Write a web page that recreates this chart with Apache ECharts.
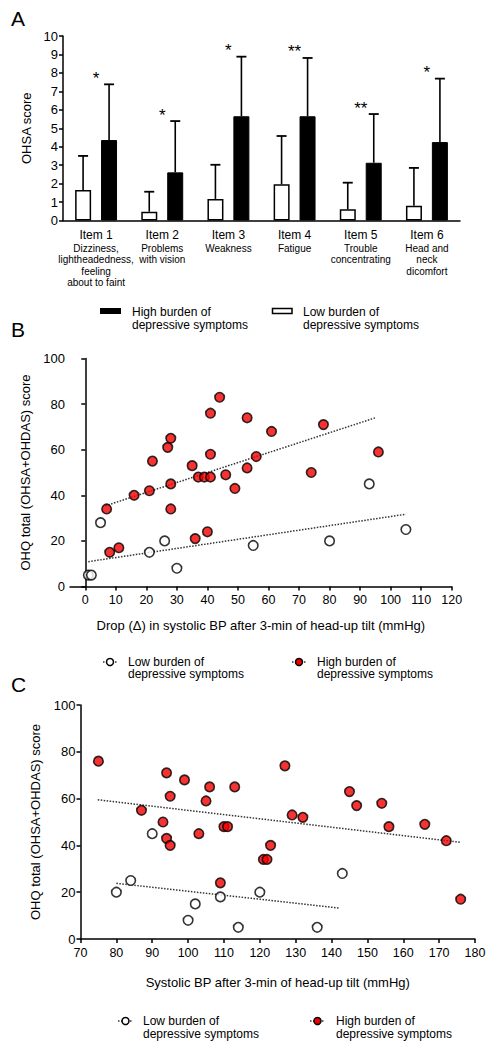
<!DOCTYPE html>
<html><head><meta charset="utf-8">
<script src="https://cdn.jsdelivr.net/npm/echarts@6/dist/echarts.min.js"></script>
<style>html,body{margin:0;padding:0;background:#fff}#c{width:494px;height:1050px}</style>
</head><body><div id="c"></div>
<script>
// ---------- Panel A data ----------
var categoriesA = ['Item 1','Item 2','Item 3','Item 4','Item 5','Item 6'];
var descriptionsA = ['Dizziness,\nlightheadedness,\nfeeling\nabout to faint','Problems\nwith vision','Weakness','Fatigue','Trouble\nconcentrating','Head and\nneck\ndicomfort'];
var lowMeanA  = [1.65, 0.48, 1.17, 1.96, 0.61, 0.80];
var lowSdA    = [1.85, 1.08, 1.85, 2.62, 1.44, 2.05];
var highMeanA = [4.36, 2.61, 5.65, 5.65, 3.13, 4.25];
var highSdA   = [3.02, 2.78, 3.23, 3.16, 2.64, 3.44];
var starsA    = ['*','*','*','**','**','*'];
var yTicksA = [0,1,2,3,4,5,6,7,8,9,10];

// ---------- Panel B data (drop in SBP vs OHQ) ----------
var lowB = [[1,5],[2,5],[5,28],[21,15],[26,20],[30,8],[55,18],[80,20],[93,45],[105,25]];
var highB = [[7,34],[8,15],[11,17],[16,40],[21,42],[22,55],[27,61],[28,65],[28,45],[28,34],[35,53],[36,21],[37,48],[39,48],[40,24],[41,76],[41,58],[41,48],[44,83],[46,49],[49,43],[53,74],[53,52],[56,57],[61,68],[74,50],[78,71],[96,59]];
var trendLowB = [[1,10.9],[105,31.7]];
var trendHighB = [[6.6,35.4],[95,74]];
var xTicksB = [0,10,20,30,40,50,60,70,80,90,100,110,120];

// ---------- Panel C data (SBP vs OHQ) ----------
var lowC = [[80,20],[84,25],[90,45],[100,8],[102,15],[109,18],[114,5],[120,20],[136,5],[143,28]];
var highC = [[75,76],[87,55],[93,50],[94,43],[94,71],[95,61],[95,40],[99,68],[103,45],[105,59],[106,65],[109,24],[110,48],[111,48],[113,65],[121,34],[122,34],[123,40],[127,74],[129,53],[132,52],[145,63],[147,57],[154,58],[156,48],[166,49],[172,42],[176,17]];
var trendLowC = [[80,23.8],[142.3,13.2]];
var trendHighC = [[74.8,59.5],[176,41.3]];

var FONT = '"Liberation Sans", Arial, Helvetica, sans-serif';
var RED = '#f20000';

function errRender(offset, withStar){
  return function(params, api){
    var i = api.value(0), m = api.value(1), sd = api.value(2);
    var p0 = api.coord([i, m]);
    var p1 = api.coord([i, m + sd]);
    var x = p0[0] + offset;
    var ch = [
      {type:'line', shape:{x1:x, y1:p0[1], x2:x, y2:p1[1]}, style:{stroke:'#000', lineWidth:1.6}},
      {type:'line', shape:{x1:x-5, y1:p1[1], x2:x+5, y2:p1[1]}, style:{stroke:'#000', lineWidth:1.8}}
    ];
    if (withStar) {
      ch.push({type:'text', x:p0[0], y:p1[1]-6, style:{text:starsA[i], font:'17px ' + FONT, fill:'#000', align:'center', verticalAlign:'middle'}});
    }
    return {type:'group', children:ch};
  };
}

var axisLine = {show:true, lineStyle:{color:'#000', width:1.5}};
var tick = {show:true, length:4, lineStyle:{color:'#000', width:1.5}};

var option = {
  animation:false,
  textStyle:{fontFamily:FONT},
  grid:[
    {left:63, top:36, width:397, height:184.5},
    {left:70, top:358.5, width:381.7, height:228},
    {left:80.5, top:705, width:394.5, height:234}
  ],
  xAxis:[
    {gridIndex:0, type:'category', data:categoriesA, axisLine:axisLine, axisTick:{show:false},
     axisLabel:{interval:0, margin:7, color:'#000',
       formatter:function(v, idx){
         return '{a|' + v + '}\n' + descriptionsA[idx].split('\n').map(function(s){return '{b|' + s + '}';}).join('\n');
       },
       rich:{a:{fontSize:12, lineHeight:15, fontFamily:FONT, color:'#000'}, b:{fontSize:10, lineHeight:11.5, fontFamily:FONT, color:'#000'}}}},
    {gridIndex:1, type:'value', min:-5, max:120, axisLine:axisLine, axisTick:Object.assign({customValues:xTicksB}, tick), splitLine:{show:false},
     axisLabel:{customValues:xTicksB, fontSize:12.5, color:'#000', margin:7},
     name:'Drop (\u0394) in systolic BP after 3-min of head-up tilt (mmHg)', nameLocation:'middle', nameGap:32,
     nameTextStyle:{fontSize:13, color:'#000'}},
    {gridIndex:2, type:'value', min:70, max:180, interval:10, axisLine:axisLine, axisTick:tick, splitLine:{show:false},
     axisLabel:{fontSize:12.5, color:'#000', margin:7},
     name:'Systolic BP after 3-min of head-up tilt (mmHg)', nameLocation:'middle', nameGap:37,
     nameTextStyle:{fontSize:13, color:'#000'}}
  ],
  yAxis:[
    {gridIndex:0, type:'value', min:0, max:10, interval:1, axisLine:axisLine, axisTick:tick, splitLine:{show:false},
     axisLabel:{fontSize:13, color:'#000', margin:5},
     name:'OHSA score', nameLocation:'middle', nameGap:26, nameTextStyle:{fontSize:13, color:'#000'}},
    {gridIndex:1, type:'value', min:0, max:100, interval:20, axisLine:axisLine, axisTick:tick, splitLine:{show:false},
     axisLabel:{fontSize:13, color:'#000', margin:5},
     name:'OHQ total (OHSA+OHDAS) score', nameLocation:'middle', nameGap:31, nameTextStyle:{fontSize:13, color:'#000'}},
    {gridIndex:2, type:'value', min:0, max:100, interval:20, axisLine:axisLine, axisTick:tick, splitLine:{show:false},
     axisLabel:{fontSize:13, color:'#000', margin:5},
     name:'OHQ total (OHSA+OHDAS) score', nameLocation:'middle', nameGap:39, nameTextStyle:{fontSize:13, color:'#000'}}
  ],
  series:[
    {type:'bar', xAxisIndex:0, yAxisIndex:0, data:lowMeanA, barWidth:16, barGap:'62%',
     itemStyle:{color:'#fff', borderColor:'#000', borderWidth:1.5}},
    {type:'bar', xAxisIndex:0, yAxisIndex:0, data:highMeanA, barWidth:16, barGap:'62%',
     itemStyle:{color:'#000', borderColor:'#000', borderWidth:1}},
    {type:'custom', xAxisIndex:0, yAxisIndex:0, renderItem:errRender(-13, false), z:5,
     data:lowMeanA.map(function(m,i){return [i, m, lowSdA[i]];})},
    {type:'custom', xAxisIndex:0, yAxisIndex:0, renderItem:errRender(13, true), z:5,
     data:highMeanA.map(function(m,i){return [i, m, highSdA[i]];})},

    {type:'line', xAxisIndex:1, yAxisIndex:1, data:trendLowB, symbol:'none', z:1, lineStyle:{color:'#333', width:1.5, type:[1.5,1.5]}},
    {type:'line', xAxisIndex:1, yAxisIndex:1, data:trendHighB, symbol:'none', z:1, lineStyle:{color:'#333', width:1.5, type:[1.5,1.5]}},
    {type:'scatter', xAxisIndex:1, yAxisIndex:1, data:lowB, symbolSize:9.5, z:3, itemStyle:{color:'#fff', borderColor:'#000', borderWidth:1.6}},
    {type:'scatter', xAxisIndex:1, yAxisIndex:1, data:highB, symbolSize:9.5, z:3, itemStyle:{color:RED, borderColor:'#000', borderWidth:1.6}},

    {type:'line', xAxisIndex:2, yAxisIndex:2, data:trendLowC, symbol:'none', z:1, lineStyle:{color:'#333', width:1.5, type:[1.5,1.5]}},
    {type:'line', xAxisIndex:2, yAxisIndex:2, data:trendHighC, symbol:'none', z:1, lineStyle:{color:'#333', width:1.5, type:[1.5,1.5]}},
    {type:'scatter', xAxisIndex:2, yAxisIndex:2, data:lowC, symbolSize:9.5, z:3, itemStyle:{color:'#fff', borderColor:'#000', borderWidth:1.6}},
    {type:'scatter', xAxisIndex:2, yAxisIndex:2, data:highC, symbolSize:9.5, z:3, itemStyle:{color:RED, borderColor:'#000', borderWidth:1.6}}
  ],
  graphic:[
    {type:'text', x:11, y:18, style:{text:'A', font:'21px ' + FONT, fill:'#000', textVerticalAlign:'middle'}},
    {type:'text', x:11, y:329, style:{text:'B', font:'21px ' + FONT, fill:'#000', textVerticalAlign:'middle'}},
    {type:'text', x:11, y:684, style:{text:'C', font:'21px ' + FONT, fill:'#000', textVerticalAlign:'middle'}},

    // Legend A
    {type:'rect', shape:{x:100, y:308, width:21, height:6}, style:{fill:'#000'}},
    {type:'text', x:132, y:311.7, style:{text:'High burden of', font:'12px ' + FONT, fill:'#000', textVerticalAlign:'middle'}},
    {type:'text', x:132, y:325, style:{text:'depressive symptoms', font:'12px ' + FONT, fill:'#000', textVerticalAlign:'middle'}},
    {type:'rect', shape:{x:272.5, y:308.5, width:19.5, height:5}, style:{fill:'#fff', stroke:'#000', lineWidth:1.5}},
    {type:'text', x:303, y:311.7, style:{text:'Low burden of', font:'12px ' + FONT, fill:'#000', textVerticalAlign:'middle'}},
    {type:'text', x:303, y:325, style:{text:'depressive symptoms', font:'12px ' + FONT, fill:'#000', textVerticalAlign:'middle'}},

    // Legend B
    {type:'line', shape:{x1:103, y1:662, x2:117, y2:662}, style:{stroke:'#333', lineWidth:1.5, lineDash:[1.5,1.5]}},
    {type:'circle', shape:{cx:110, cy:662, r:3.5}, style:{fill:'#fff', stroke:'#000', lineWidth:1.5}},
    {type:'text', x:128, y:661.7, style:{text:'Low burden of', font:'12px ' + FONT, fill:'#000', textVerticalAlign:'middle'}},
    {type:'text', x:128, y:674, style:{text:'depressive symptoms', font:'12px ' + FONT, fill:'#000', textVerticalAlign:'middle'}},
    {type:'line', shape:{x1:292, y1:662, x2:306, y2:662}, style:{stroke:'#333', lineWidth:1.5, lineDash:[1.5,1.5]}},
    {type:'circle', shape:{cx:299, cy:662, r:3.5}, style:{fill:RED, stroke:'#000', lineWidth:1.5}},
    {type:'text', x:317, y:661.7, style:{text:'High burden of', font:'12px ' + FONT, fill:'#000', textVerticalAlign:'middle'}},
    {type:'text', x:317, y:674, style:{text:'depressive symptoms', font:'12px ' + FONT, fill:'#000', textVerticalAlign:'middle'}},

    // Legend C
    {type:'line', shape:{x1:118, y1:1021, x2:133, y2:1021}, style:{stroke:'#333', lineWidth:1.5, lineDash:[1.5,1.5]}},
    {type:'circle', shape:{cx:125.5, cy:1021, r:3.5}, style:{fill:'#fff', stroke:'#000', lineWidth:1.5}},
    {type:'text', x:143, y:1020.7, style:{text:'Low burden of', font:'12px ' + FONT, fill:'#000', textVerticalAlign:'middle'}},
    {type:'text', x:143, y:1034, style:{text:'depressive symptoms', font:'12px ' + FONT, fill:'#000', textVerticalAlign:'middle'}},
    {type:'line', shape:{x1:310, y1:1021, x2:325, y2:1021}, style:{stroke:'#333', lineWidth:1.5, lineDash:[1.5,1.5]}},
    {type:'circle', shape:{cx:317.5, cy:1021, r:3.5}, style:{fill:RED, stroke:'#000', lineWidth:1.5}},
    {type:'text', x:336, y:1020.7, style:{text:'High burden of', font:'12px ' + FONT, fill:'#000', textVerticalAlign:'middle'}},
    {type:'text', x:336, y:1034, style:{text:'depressive symptoms', font:'12px ' + FONT, fill:'#000', textVerticalAlign:'middle'}}
  ]
};
var chart = echarts.init(document.getElementById('c'), null, {renderer:'svg'});
chart.setOption(option);
</script>
</body></html>
